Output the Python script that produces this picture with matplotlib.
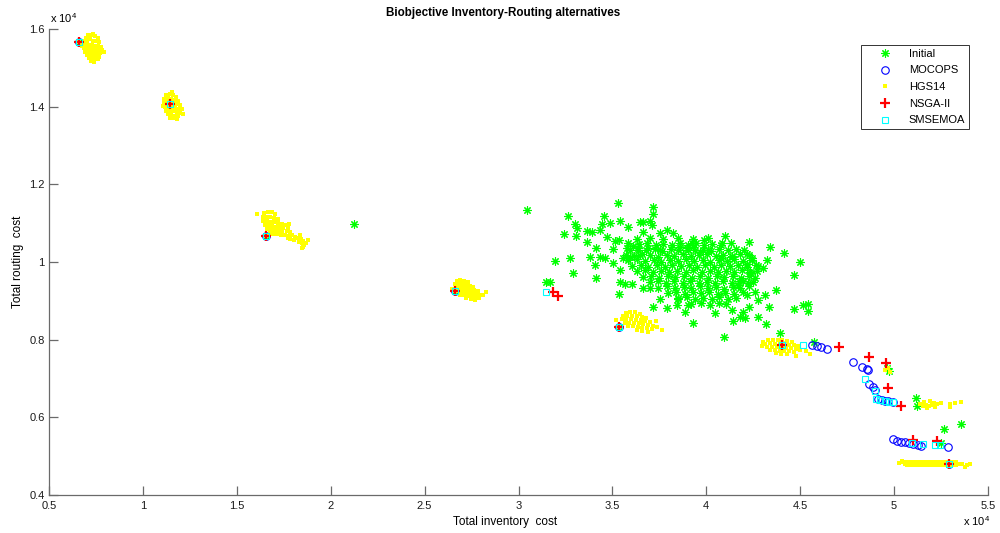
import numpy as np
import matplotlib
matplotlib.use("Agg")
import matplotlib.pyplot as plt
from matplotlib.ticker import FixedLocator, FuncFormatter

plt.rcParams["font.family"] = ["Liberation Sans", "DejaVu Sans"]
plt.rcParams["mathtext.default"] = "regular"

# Extreme (single-objective) solutions shared by every method
shared_extremes = [(6600, 15660), (11440, 14060), (16540, 10670), (26620, 9260),
                   (35350, 8330), (44020, 7860), (52940, 4790)]

# Initial population: scattered solutions
initial_scatter = [
    (21260, 10970), (30440, 11340), (31470, 9490), (31680, 9490), (31950, 10020), (32420, 10710),
    (32650, 11190), (33010, 10970), (33100, 10870), (33060, 10670), (32740, 10100), (32890, 9710),
    (33630, 10800), (33900, 10770), (33660, 10520), (34080, 9920), (34130, 10350), (34130, 9580),
    (34430, 10970), (34340, 10820), (34570, 11190), (34700, 10650), (34870, 11000), (35140, 10540),
    (35370, 10570), (35320, 11510), (35410, 11060), (35370, 9170), (35410, 9790), (35850, 10910),
    (35850, 10480), (36080, 10420), (36470, 11040), (36620, 11020), (37000, 11060), (37090, 10940),
    (37180, 11420), (37180, 11230), (36620, 9320), (37150, 8850),
    (36300, 10590), (36650, 10770), (37000, 10610), (37540, 10740), (37890, 10820), (38240, 10740),
    (35050, 10340), (35760, 10350), (36380, 10310), (36910, 10350), (37540, 10310), (33810, 10140),
    (34340, 10140), (34610, 10100), (35050, 9970), (35580, 10100), (35940, 10140), (36470, 10180),
    (35410, 9480), (35670, 9430), (36030, 9430), (37540, 9050), (37930, 8820), (38430, 8890),
    (38510, 9050), (38870, 8720), (39040, 8890), (39310, 8440), (39220, 10480), (38600, 10390),
    (39040, 10310), (37000, 9320),
    (41000, 10680), (40810, 10480), (39880, 10570), (39310, 10390), (40110, 10310), (39670, 10270),
    (41350, 10140), (40770, 10100), (42290, 10510), (43390, 10390), (44160, 10220), (44990, 10010),
    (43250, 10050), (42770, 9900), (43040, 9850), (42180, 10200), (42420, 10100), (42180, 9940),
    (44670, 9670), (42370, 9710), (41970, 9510), (41710, 9410), (43710, 9280), (42590, 9240),
    (43130, 9150), (42150, 9150), (42770, 9020), (43360, 8850), (44670, 8790), (45170, 8880),
    (45430, 8910), (45430, 8740), (42290, 8850), (41970, 8720), (41350, 8760), (41800, 8590),
    (42060, 8550), (42740, 8580), (40450, 8680), (41440, 8480), (43180, 8400), (40940, 8080),
    (43930, 8160), (45750, 7950), (49610, 7260), (49750, 7200), (51180, 6490), (51220, 6290),
    (52640, 5710), (53560, 5820), (52480, 5350),
]

# Initial population: dense core
initial_core = [
    (37700, 10600), (38500, 10630), (39300, 10580), (40100, 10620),
    (36400, 10460), (36850, 10490), (37300, 10440), (37700, 10470), (38150, 10430), (38600, 10500),
    (39000, 10450), (39450, 10480), (39900, 10430), (40300, 10470), (40800, 10450), (41300, 10490),
    (35950, 10320), (36350, 10350), (36800, 10300), (37250, 10330), (37650, 10290), (38100, 10340),
    (38500, 10310), (38950, 10350), (39400, 10300), (39800, 10320), (40250, 10290), (40700, 10340),
    (41150, 10310), (41600, 10330), (42000, 10300),
    (35700, 10180), (36150, 10150), (36600, 10200), (37000, 10170), (37450, 10140), (37900, 10190),
    (38300, 10160), (38750, 10200), (39200, 10150), (39600, 10180), (40050, 10210), (40500, 10160),
    (40900, 10190), (41350, 10150), (41800, 10200), (42250, 10170),
    (35850, 10040), (36300, 10070), (36750, 10020), (37200, 10050), (37600, 10010), (38050, 10060),
    (38500, 10030), (38900, 10070), (39350, 10020), (39800, 10050), (40200, 10010), (40650, 10060),
    (41100, 10030), (41500, 10070), (41950, 10020), (42450, 10050),
    (36050, 9900), (36500, 9930), (36900, 9880), (37350, 9920), (37800, 9870), (38200, 9910),
    (38650, 9890), (39100, 9930), (39500, 9880), (39950, 9910), (40400, 9870), (40800, 9920),
    (41250, 9890), (41700, 9930), (42150, 9880), (42650, 9910),
    (36300, 9760), (36750, 9790), (37150, 9740), (37600, 9770), (38000, 9730), (38450, 9780),
    (38900, 9750), (39300, 9790), (39750, 9740), (40200, 9770), (40600, 9730), (41050, 9780),
    (41500, 9750), (41900, 9790), (42350, 9740), (42700, 9770),
    (36650, 9620), (37050, 9650), (37500, 9600), (37950, 9640), (38350, 9610), (38800, 9650),
    (39250, 9600), (39650, 9630), (40100, 9590), (40550, 9640), (40950, 9610), (41400, 9650),
    (41850, 9600), (42250, 9630), (42600, 9590),
    (37000, 9480), (37450, 9510), (37850, 9460), (38300, 9500), (38750, 9470), (39150, 9510),
    (39600, 9460), (40050, 9490), (40450, 9450), (40900, 9500), (41350, 9470), (41750, 9510),
    (42200, 9460), (42500, 9490),
    (37450, 9340), (37900, 9370), (38350, 9320), (38800, 9360), (39200, 9330), (39650, 9370),
    (40100, 9320), (40500, 9350), (40950, 9310), (41400, 9360), (41800, 9330), (42250, 9370),
    (37950, 9200), (38400, 9230), (38850, 9180), (39300, 9220), (39700, 9190), (40150, 9230),
    (40600, 9180), (41000, 9210), (41450, 9170), (41950, 9220),
    (38500, 9060), (38950, 9090), (39400, 9040), (39850, 9080), (40300, 9050), (40700, 9090),
    (41150, 9040), (41600, 9070),
    (39200, 8920), (39700, 8950), (40200, 8900), (40650, 8940), (41050, 8910),
]

mocops_front = [
    (45610, 7850), (45880, 7840), (46090, 7800), (46450, 7760), (47800, 7430), (48280, 7290),
    (48540, 7250), (48630, 7220), (48680, 6850), (48890, 6770), (48990, 6700), (49160, 6470),
    (49340, 6450), (49520, 6430), (49690, 6420), (49930, 6400), (49930, 5430), (50140, 5400),
    (50350, 5370), (50580, 5360), (50810, 5330), (51030, 5310), (51260, 5290), (51420, 5270),
    (52860, 5240),
]

hgs14_blob_a = [
    (6980, 15780), (7140, 15820), (7300, 15850), (7460, 15810), (7620, 15760),
    (6880, 15700), (7040, 15700), (7200, 15730), (7360, 15700), (7520, 15680), (7680, 15660),
    (6830, 15590), (6990, 15600), (7150, 15600), (7310, 15590), (7470, 15570), (7630, 15570), (7790, 15540),
    (6880, 15500), (7040, 15500), (7200, 15510), (7360, 15500), (7520, 15480), (7680, 15470), (7840, 15450),
    (6940, 15420), (7100, 15420), (7260, 15420), (7420, 15400), (7580, 15390), (7740, 15370),
    (7000, 15340), (7160, 15340), (7320, 15320), (7480, 15320), (7640, 15290),
    (7110, 15260), (7270, 15240), (7430, 15240), (7590, 15220),
    (7250, 15170), (7410, 15150), (6770, 15550), (7920, 15400), (7090, 15840), (7350, 15880),
]
hgs14_blob_b = [
    (11250, 14300), (11420, 14320), (11600, 14290), (11780, 14250),
    (11150, 14200), (11330, 14220), (11510, 14200), (11690, 14180), (11870, 14150),
    (11100, 14100), (11280, 14110), (11460, 14090), (11640, 14080), (11820, 14060), (11990, 14030),
    (11180, 14000), (11360, 14000), (11540, 13990), (11720, 13970), (11900, 13950), (12060, 13930),
    (11250, 13900), (11430, 13890), (11610, 13880), (11790, 13860), (11970, 13840),
    (11330, 13800), (11510, 13790), (11690, 13770), (11870, 13760),
    (11450, 13710), (11630, 13700), (11810, 13680), (12120, 13800), (11050, 14020), (11560, 14370),
]
hgs14_blob_c = [
    (16450, 11250), (16650, 11300), (16850, 11280), (17050, 11230),
    (16380, 11150), (16580, 11170), (16780, 11160), (16980, 11140), (17180, 11100),
    (16420, 11050), (16620, 11060), (16820, 11040), (17020, 11020), (17220, 11000), (17400, 10980),
    (16480, 10950), (16680, 10950), (16880, 10930), (17080, 10910), (17280, 10890), (17450, 10870),
    (16600, 10850), (16800, 10840), (17000, 10820), (17200, 10800), (17400, 10790),
    (16750, 10740), (16950, 10730), (17150, 10710), (17350, 10700),
    (17600, 10950), (17750, 10880), (17650, 10800), (17850, 10780), (17550, 10700), (17750, 10680),
    (17950, 10700), (18100, 10640), (17850, 10600), (18050, 10560), (17700, 10620),
    (18250, 10620), (18400, 10580), (18300, 10520), (18550, 10540), (18450, 10480), (18700, 10500),
    (18600, 10440), (18350, 10700), (18800, 10560), (18500, 10380),
    (16060, 11240), (17800, 10980), (18460, 10350),
]
hgs14_blob_d = [
    (26700, 9520), (26900, 9540), (27100, 9510), (27300, 9480),
    (26600, 9430), (26800, 9450), (27000, 9440), (27200, 9420), (27400, 9390), (27600, 9360),
    (26650, 9340), (26850, 9350), (27050, 9340), (27250, 9320), (27450, 9300), (27650, 9280), (27850, 9250),
    (26750, 9250), (26950, 9250), (27150, 9230), (27350, 9220), (27550, 9200), (27750, 9180), (27950, 9160),
    (26900, 9160), (27100, 9150), (27300, 9130), (27500, 9110), (27700, 9090), (27900, 9080),
    (27200, 9060), (27450, 9040), (27700, 9010), (28100, 9150), (28250, 9220), (26450, 9300),
]
hgs14_blob_e = [
    (35700, 8690), (35950, 8720), (36200, 8700), (36450, 8670),
    (35550, 8610), (35800, 8620), (36050, 8620), (36300, 8600), (36550, 8580), (36800, 8560),
    (35500, 8520), (35750, 8530), (36000, 8520), (36250, 8510), (36500, 8500), (36750, 8480), (37000, 8460),
    (35650, 8430), (35900, 8440), (36150, 8430), (36400, 8420), (36650, 8400), (36900, 8380), (37150, 8360),
    (35850, 8350), (36100, 8340), (36350, 8330), (36600, 8310), (36850, 8290), (37100, 8280),
    (36300, 8250), (36600, 8230), (36900, 8210), (37400, 8330), (37650, 8250), (35200, 8500), (37300, 8470),
]
hgs14_blob_f = [
    (43300, 7980), (43550, 8000), (43800, 7990), (44050, 7980), (44300, 7960), (44550, 7940),
    (43150, 7900), (43400, 7910), (43650, 7900), (43900, 7890), (44150, 7880), (44400, 7870),
    (44650, 7850), (44900, 7830),
    (43250, 7810), (43500, 7820), (43750, 7810), (44000, 7800), (44250, 7790), (44500, 7780),
    (44750, 7760), (45000, 7740),
    (43400, 7730), (43650, 7730), (43900, 7720), (44150, 7710), (44400, 7700), (44650, 7690),
    (43700, 7650), (44000, 7640), (44300, 7630), (43000, 7950), (42950, 7830), (45300, 7700),
    (45500, 7620), (44800, 7580),
]
hgs14_sparse = [
    (51400, 6350), (51550, 6300), (51700, 6330), (51850, 6280), (52000, 6320), (52150, 6370),
    (52300, 6340), (51600, 6400), (51900, 6420), (52500, 6360), (52950, 6340), (53250, 6380),
    (53550, 6400), (53000, 6270), (51750, 6230), (52200, 6260),
    (49500, 7230), (49700, 7280), (49800, 7180),
]
hgs14_blob_g = [
    (50500, 4860), (50700, 4860), (50900, 4860), (51100, 4860), (51300, 4860), (51500, 4860),
    (51700, 4860), (51900, 4860), (52100, 4860), (52300, 4860), (52500, 4860), (52700, 4860),
    (52900, 4860), (53100, 4860), (53300, 4860),
    (50600, 4810), (50800, 4810), (51000, 4810), (51200, 4810), (51400, 4810), (51600, 4810),
    (51800, 4810), (52000, 4810), (52200, 4810), (52400, 4810), (52600, 4810), (52800, 4810),
    (53000, 4810), (53200, 4810), (53400, 4810), (53600, 4800),
    (50700, 4760), (50900, 4760), (51100, 4760), (51300, 4760), (51500, 4760), (51700, 4760),
    (51900, 4760), (52100, 4760), (52300, 4760), (52500, 4760), (52700, 4760), (52900, 4760),
    (53100, 4760), (53300, 4760),
    (50250, 4820), (53900, 4780), (54050, 4800), (53800, 4730), (50400, 4870),
]

nsga2_front = [
    (31850, 9230), (32120, 9130), (47080, 7820), (48680, 7550), (49570, 7410), (49680, 6750),
    (50390, 6290), (51030, 5420), (52260, 5400),
]

smsemoa_front = [
    (31450, 9240), (45170, 7860), (48470, 6980), (49000, 6680), (49040, 6470), (49250, 6450),
    (49520, 6420), (49730, 6400), (49930, 6390), (50940, 5350), (51560, 5310), (52180, 5290),
    (52450, 5290),
]

x_ticks = [5000, 10000, 15000, 20000, 25000, 30000, 35000, 40000, 45000, 50000, 55000]
y_ticks = [4000, 6000, 8000, 10000, 12000, 14000, 16000]


def pts(*groups):
    arr = np.array([p for g in groups for p in g], dtype=float)
    return arr[:, 0], arr[:, 1]


fig = plt.figure(figsize=(10, 5.33), dpi=100)
ax = fig.add_axes([0.049, 0.0713, 0.939, 0.8743])

x, y = pts(shared_extremes, initial_scatter, initial_core)
ax.plot(x, y, linestyle="none", marker=(8, 2, 0), markersize=6, markeredgewidth=0.8,
        color=(0, 1, 0), label="Initial")

x, y = pts(shared_extremes, mocops_front)
ax.plot(x, y, linestyle="none", marker="o", markersize=5.4, markeredgewidth=0.8,
        markerfacecolor="none", color=(0, 0, 1), label="MOCOPS")

x, y = pts(shared_extremes, hgs14_blob_a, hgs14_blob_b, hgs14_blob_c, hgs14_blob_d,
           hgs14_blob_e, hgs14_blob_f, hgs14_sparse, hgs14_blob_g)
ax.plot(x, y, linestyle="none", marker="s", markersize=2.7, markeredgewidth=0,
        color=(1, 1, 0), label="HGS14")

x, y = pts(shared_extremes, nsga2_front)
ax.plot(x, y, linestyle="none", marker="+", markersize=6.5, markeredgewidth=1.6,
        color=(1, 0, 0), label="NSGA-II")

x, y = pts(shared_extremes, smsemoa_front)
ax.plot(x, y, linestyle="none", marker="s", markersize=4.8, markeredgewidth=0.8,
        markerfacecolor="none", color=(0, 1, 1), label="SMSEMOA")

ax.set_xlim(5000, 55000)
ax.set_ylim(4000, 16000)
ax.xaxis.set_major_locator(FixedLocator(x_ticks))
ax.yaxis.set_major_locator(FixedLocator(y_ticks))
fmt = FuncFormatter(lambda v, _: f"{v / 1e4:g}")
ax.xaxis.set_major_formatter(fmt)
ax.yaxis.set_major_formatter(fmt)

for side in ("top", "right"):
    ax.spines[side].set_visible(False)
for side in ("left", "bottom"):
    ax.spines[side].set_color("#6a6a6a")
    ax.spines[side].set_linewidth(0.9)
ax.tick_params(direction="in", length=6.5, width=0.9, color="#6a6a6a",
               labelsize=8, labelcolor="#1a1a1a")
ax.tick_params(axis="x", pad=4)
ax.tick_params(axis="y", pad=3)

leg = ax.legend(loc="upper right", bbox_to_anchor=(0.98, 0.966), numpoints=1,
                fontsize=8, frameon=True, fancybox=False, framealpha=1,
                edgecolor="#333333", borderpad=0.35, handlelength=3.6,
                handletextpad=0.4, labelspacing=0.6, borderaxespad=0)
leg.get_frame().set_linewidth(0.7)

fig.text(0.503, 1 - 13 / 533, "Biobjective Inventory-Routing alternatives",
         ha="center", va="center", fontsize=8.4, fontweight="bold")
fig.text(0.505, 1 - 522 / 533, "Total inventory  cost", ha="center", va="center", fontsize=8.5)
fig.text(0.018, 1 - 262 / 533, "Total routing  cost", ha="center", va="center",
         rotation=90, fontsize=8.5)
fig.text(0.05, 1 - 18 / 533, r"x 10$^4$", ha="left", va="center", fontsize=8)
fig.text(0.963, 1 - 521 / 533, r"x 10$^4$", ha="left", va="center", fontsize=8)

fig.savefig("out.png", dpi=100)
